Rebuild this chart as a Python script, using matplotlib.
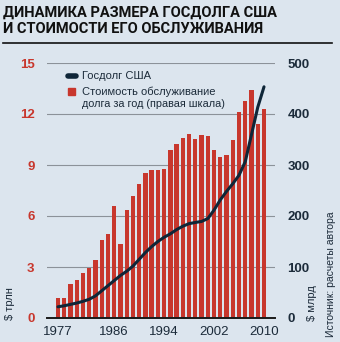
import numpy as np
import matplotlib.pyplot as plt
from matplotlib.lines import Line2D
from matplotlib.patches import Rectangle

# data
years = list(range(1977, 2011))
# cost of debt service, $ bn (right axis)
interest = [39, 40, 67, 74, 88, 99, 113, 152, 165, 219,
            146, 212, 239, 263, 284, 290, 290, 293, 329, 341,
            352, 361, 351, 359, 356, 329, 315, 319, 349, 403,
            426, 447, 380, 410]
# US public debt, $ trn (left axis)
debt = [0.66, 0.72, 0.80, 0.88, 0.98, 1.10, 1.30, 1.60, 1.90, 2.20,
        2.50, 2.75, 3.05, 3.45, 3.85, 4.20, 4.50, 4.75, 4.95, 5.20,
        5.40, 5.55, 5.62, 5.68, 5.85, 6.35, 6.95, 7.45, 7.90, 8.40,
        9.20, 10.80, 12.40, 13.60]
year_ticks = [1977, 1986, 1994, 2002, 2010]
left_ticks = [0, 3, 6, 9, 12, 15]
right_ticks = [0, 100, 200, 300, 400, 500]

BG = '#dce5ee'
RED = '#c8372d'
NAVY = '#0f2638'
DARK = '#1c2b3a'
TITLE = ['Roboto', 'DejaVu Sans']
SANS = ['Liberation Sans', 'DejaVu Sans']

W, H = 340, 342
fig = plt.figure(figsize=(W / 100, H / 100), dpi=100, facecolor=BG)

ax = fig.add_axes([47 / W, 1 - 318 / H, 228 / W, 255 / H])
ax.set_facecolor(BG)
ax2 = ax.twinx()

ax.set_xlim(1975.24, 2011.76)
ax.set_ylim(0, 15)
ax2.set_ylim(0, 500)

ax.set_zorder(ax2.get_zorder() + 1)
ax.patch.set_visible(False)

ax2.bar(years, interest, width=0.69, color=RED, zorder=2)
ax.plot(years, debt, color=NAVY, lw=2.2, zorder=3, solid_capstyle='round')

ax.set_yticks(left_ticks)
ax2.set_yticks(right_ticks)
ax.set_xticks(year_ticks)
ax2.grid(axis='y', color='#8c9299', lw=0.8, zorder=0)
ax2.set_axisbelow(True)

for a in (ax, ax2):
    for s in a.spines.values():
        s.set_visible(False)
ax.spines['bottom'].set_visible(True)
ax.spines['bottom'].set_color('#1a1a1a')
ax.spines['bottom'].set_linewidth(1.4)

ax.tick_params(axis='y', length=0, pad=9, labelcolor=RED, labelsize=9.5)
ax2.tick_params(axis='y', length=0, pad=9, labelcolor=DARK, labelsize=9.5)
ax.tick_params(axis='x', length=0, pad=6, labelcolor=DARK, labelsize=9.5)
for lab in ax.get_yticklabels() + ax2.get_yticklabels():
    lab.set_fontweight('bold')
    lab.set_family(SANS)
for lab in ax.get_xticklabels():
    lab.set_family(SANS)

# title and rule
fig.text(3 / W, 1 - 13 / H, 'ДИНАМИКА РАЗМЕРА ГОСДОЛГА США', family=TITLE,
         fontweight='bold', fontsize=10.5, color='#111111', va='center')
fig.text(3 / W, 1 - 29 / H, 'И СТОИМОСТИ ЕГО ОБСЛУЖИВАНИЯ', family=TITLE,
         fontweight='bold', fontsize=10.5, color='#111111', va='center')
fig.add_artist(Line2D([3 / W, 332 / W], [1 - 42.5 / H, 1 - 42.5 / H],
                      color='#111111', lw=1.2))

# legend
fig.add_artist(Line2D([68 / W, 76 / W], [1 - 76 / H, 1 - 76 / H],
                      color=NAVY, lw=4, solid_capstyle='round'))
fig.add_artist(Rectangle((68 / W, 1 - 95.5 / H), 7 / W, 7 / H, color=RED))
fig.text(82 / W, 1 - 76 / H, 'Госдолг США', family=SANS, fontsize=8,
         color=DARK, va='center')
fig.text(82 / W, 1 - 92 / H, 'Стоимость обслуживание', family=SANS,
         fontsize=8, color=DARK, va='center')
fig.text(82 / W, 1 - 104 / H, 'долга за год (правая шкала)', family=SANS,
         fontsize=7.8, color=DARK, va='center')

# axis units and source
fig.text(10 / W, 1 - 304 / H, '$ трлн', family=SANS, fontsize=8,
         color=DARK, rotation=90, ha='center', va='center')
fig.text(312 / W, 1 - 303 / H, '$ млрд', family=SANS, fontsize=8,
         color=DARK, rotation=90, ha='center', va='center')
fig.text(331 / W, 1 - 274 / H, 'Источник: расчеты автора', family=SANS,
         fontsize=7.5, color=DARK, rotation=90, ha='center', va='center')

fig.savefig('out.png', dpi=100, facecolor=BG)
